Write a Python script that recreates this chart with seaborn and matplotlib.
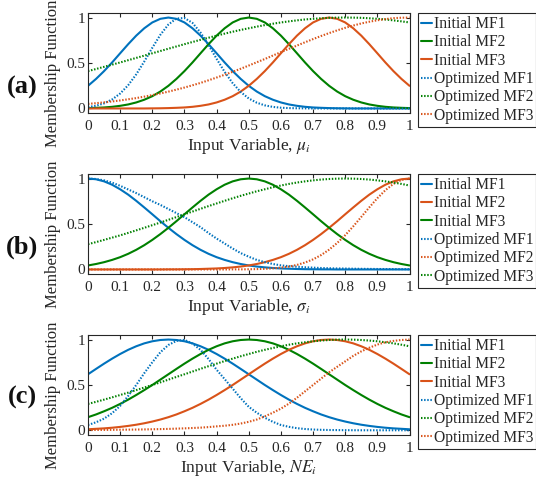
import numpy as np
import matplotlib
matplotlib.use("Agg")
import matplotlib.pyplot as plt
import seaborn as sns

x = np.linspace(0, 1, 41)

# (a) input mu_i
a_init1 = [0.249, 0.325, 0.411, 0.506, 0.607, 0.707, 0.801, 0.882, 0.946, 0.986, 1.0,
           0.986, 0.946, 0.882, 0.801, 0.707, 0.607, 0.506, 0.411, 0.325, 0.249,
           0.186, 0.135, 0.096, 0.066, 0.044, 0.029, 0.018, 0.011, 0.007, 0.004,
           0.002, 0.001, 0, 0, 0, 0, 0, 0, 0, 0]
a_init2 = [0.004, 0.007, 0.011, 0.018, 0.029, 0.044, 0.066, 0.096, 0.135, 0.186, 0.249,
           0.325, 0.411, 0.506, 0.607, 0.707, 0.801, 0.882, 0.946, 0.986, 1.0,
           0.986, 0.946, 0.882, 0.801, 0.707, 0.607, 0.506, 0.411, 0.325, 0.249,
           0.186, 0.135, 0.096, 0.066, 0.044, 0.029, 0.018, 0.011, 0.007, 0.004]
a_init3 = [0, 0, 0, 0, 0, 0, 0, 0, 0.001, 0.002, 0.004,
           0.007, 0.011, 0.018, 0.029, 0.044, 0.066, 0.096, 0.135, 0.186, 0.249,
           0.325, 0.411, 0.506, 0.607, 0.707, 0.801, 0.882, 0.946, 0.986, 1.0,
           0.986, 0.946, 0.882, 0.801, 0.707, 0.607, 0.506, 0.411, 0.325, 0.249]
a_opt1 = [0.015, 0.030, 0.056, 0.099, 0.164, 0.256, 0.375, 0.516, 0.667, 0.810, 0.923,
          0.989, 0.995, 0.941, 0.835, 0.697, 0.546, 0.402, 0.278, 0.181, 0.110,
          0.063, 0.034, 0.017, 0.008, 0.004, 0.002, 0.001, 0, 0, 0,
          0, 0, 0, 0, 0, 0, 0, 0, 0, 0]
a_opt2 = [0.411, 0.434, 0.458, 0.482, 0.506, 0.531, 0.556, 0.581, 0.607, 0.632, 0.657,
          0.682, 0.707, 0.731, 0.755, 0.778, 0.801, 0.823, 0.844, 0.864, 0.882,
          0.900, 0.917, 0.932, 0.946, 0.958, 0.969, 0.979, 0.986, 0.992, 0.997,
          0.999, 1.0, 0.999, 0.997, 0.992, 0.986, 0.979, 0.969, 0.958, 0.946]
a_opt3 = [0.050, 0.058, 0.067, 0.077, 0.088, 0.101, 0.114, 0.130, 0.147, 0.165, 0.185,
          0.207, 0.230, 0.255, 0.281, 0.310, 0.340, 0.371, 0.403, 0.437, 0.472,
          0.508, 0.544, 0.582, 0.619, 0.656, 0.692, 0.728, 0.763, 0.797, 0.829,
          0.859, 0.887, 0.912, 0.935, 0.954, 0.970, 0.983, 0.993, 0.998, 1.0]

# (b) input sigma_i
b_init1 = [1.0, 0.992, 0.969, 0.932, 0.882, 0.823, 0.755, 0.682, 0.607, 0.531, 0.458,
           0.389, 0.325, 0.267, 0.216, 0.172, 0.135, 0.105, 0.080, 0.060, 0.044,
           0.032, 0.023, 0.016, 0.011, 0.008, 0.005, 0.003, 0.002, 0.001, 0.001,
           0, 0, 0, 0, 0, 0, 0, 0, 0, 0]
b_init2 = [0, 0, 0, 0, 0, 0, 0, 0, 0, 0, 0.001,
           0.001, 0.002, 0.003, 0.005, 0.008, 0.011, 0.016, 0.023, 0.032, 0.044,
           0.060, 0.080, 0.105, 0.135, 0.172, 0.216, 0.267, 0.325, 0.389, 0.458,
           0.531, 0.607, 0.682, 0.755, 0.823, 0.882, 0.932, 0.969, 0.992, 1.0]
b_init3 = [0.044, 0.060, 0.080, 0.105, 0.135, 0.172, 0.216, 0.267, 0.325, 0.389, 0.458,
           0.531, 0.607, 0.682, 0.755, 0.823, 0.882, 0.932, 0.969, 0.992, 1.0,
           0.992, 0.969, 0.932, 0.882, 0.823, 0.755, 0.682, 0.607, 0.531, 0.458,
           0.389, 0.325, 0.267, 0.216, 0.172, 0.135, 0.105, 0.080, 0.060, 0.044]
b_opt1 = [1.0, 0.995, 0.98, 0.955, 0.92, 0.88, 0.84, 0.795, 0.75, 0.71, 0.665,
          0.62, 0.575, 0.52, 0.465, 0.40, 0.34, 0.285, 0.23, 0.18, 0.14,
          0.105, 0.08, 0.06, 0.045, 0.036, 0.03, 0.024, 0.02, 0.016, 0.013,
          0.011, 0.01, 0.008, 0.007, 0.006, 0.005, 0.0045, 0.004, 0.0035, 0.003]
b_opt2 = [0, 0, 0, 0, 0, 0, 0, 0, 0, 0, 0,
          0, 0, 0, 0, 0, 0, 0, 0.001, 0.001, 0.002,
          0.004, 0.007, 0.012, 0.020, 0.032, 0.050, 0.076, 0.111, 0.158, 0.218,
          0.291, 0.377, 0.474, 0.578, 0.683, 0.784, 0.872, 0.941, 0.985, 1.0]
b_opt3 = [0.278, 0.301, 0.325, 0.350, 0.375, 0.402, 0.430, 0.458, 0.487, 0.516, 0.546,
          0.576, 0.607, 0.637, 0.667, 0.697, 0.726, 0.755, 0.783, 0.810, 0.835,
          0.860, 0.882, 0.904, 0.923, 0.941, 0.956, 0.969, 0.980, 0.989, 0.995,
          0.999, 1.0, 0.999, 0.995, 0.989, 0.980, 0.969, 0.956, 0.941, 0.923]

# (c) input NE_i
c_init1 = [0.618, 0.677, 0.735, 0.790, 0.841, 0.887, 0.926, 0.958, 0.981, 0.995, 1.0,
           0.995, 0.981, 0.958, 0.926, 0.887, 0.841, 0.790, 0.735, 0.677, 0.618,
           0.559, 0.500, 0.444, 0.390, 0.339, 0.292, 0.249, 0.211, 0.176, 0.146,
           0.120, 0.098, 0.079, 0.063, 0.050, 0.039, 0.030, 0.023, 0.018, 0.013]
c_init2 = [0.146, 0.176, 0.211, 0.249, 0.292, 0.339, 0.390, 0.444, 0.500, 0.559, 0.618,
           0.677, 0.735, 0.790, 0.841, 0.887, 0.926, 0.958, 0.981, 0.995, 1.0,
           0.995, 0.981, 0.958, 0.926, 0.887, 0.841, 0.790, 0.735, 0.677, 0.618,
           0.559, 0.500, 0.444, 0.390, 0.339, 0.292, 0.249, 0.211, 0.176, 0.146]
c_init3 = [0.013, 0.018, 0.023, 0.030, 0.039, 0.050, 0.063, 0.079, 0.098, 0.120, 0.146,
           0.176, 0.211, 0.249, 0.292, 0.339, 0.390, 0.444, 0.500, 0.559, 0.618,
           0.677, 0.735, 0.790, 0.841, 0.887, 0.926, 0.958, 0.981, 0.995, 1.0,
           0.995, 0.981, 0.958, 0.926, 0.887, 0.841, 0.790, 0.735, 0.677, 0.618]
c_opt1 = [0.06, 0.09, 0.13, 0.19, 0.27, 0.38, 0.50, 0.63, 0.75, 0.86, 0.94,
          0.985, 0.997, 0.955, 0.887, 0.785, 0.668, 0.565, 0.46, 0.355, 0.26,
          0.195, 0.14, 0.095, 0.06, 0.04, 0.025, 0.016, 0.01, 0.007, 0.005,
          0.004, 0.003, 0.0025, 0.002, 0.002, 0.002, 0.002, 0.002, 0.002, 0.002]
c_opt2 = [0.292, 0.315, 0.339, 0.364, 0.390, 0.416, 0.444, 0.472, 0.500, 0.529, 0.559,
          0.589, 0.618, 0.648, 0.678, 0.707, 0.735, 0.763, 0.790, 0.816, 0.841,
          0.865, 0.887, 0.907, 0.926, 0.943, 0.958, 0.970, 0.981, 0.989, 0.995,
          0.999, 1.0, 0.999, 0.995, 0.989, 0.981, 0.970, 0.958, 0.943, 0.926]
c_opt3 = [0.005, 0.0055, 0.006, 0.007, 0.008, 0.009, 0.010, 0.0115, 0.013, 0.015, 0.017,
          0.020, 0.023, 0.027, 0.031, 0.037, 0.045, 0.052, 0.062, 0.076, 0.095,
          0.12, 0.155, 0.195, 0.24, 0.295, 0.36, 0.43, 0.50, 0.57, 0.64,
          0.70, 0.76, 0.82, 0.87, 0.91, 0.945, 0.97, 0.985, 0.995, 1.0]

xlabels = ["Input Variable, $\\mu_i$", "Input Variable, $\\sigma_i$", "Input Variable, $NE_i$"]
panel_tags = ["(a)", "(b)", "(c)"]
mf_names = ["MF1", "MF2", "MF3"]
tick_text = ["0", "0.1", "0.2", "0.3", "0.4", "0.5", "0.6", "0.7", "0.8", "0.9", "1"]

blue, orange, green = "#0072BD", "#D95319", "#008000"

panels = [
    ([a_init1, a_init2, a_init3], [a_opt1, a_opt2, a_opt3], [blue, green, orange]),
    ([b_init1, b_init2, b_init3], [b_opt1, b_opt2, b_opt3], [blue, orange, green]),
    ([c_init1, c_init2, c_init3], [c_opt1, c_opt2, c_opt3], [blue, green, orange]),
]

sns.set_style("ticks")
plt.rcParams["font.family"] = ["Liberation Serif", "DejaVu Serif"]
plt.rcParams["mathtext.fontset"] = "stix"

W, H = 536, 482
fig = plt.figure(figsize=(W / 100, H / 100), dpi=100)

ax_tops = [13, 174, 335]
tag_y = [87, 247, 397]
dark = "#262626"

for k, (inits, opts, cols) in enumerate(panels):
    top = ax_tops[k]
    ax = fig.add_axes([88 / W, 1 - (top + 100) / H, 321.5 / W, 100 / H])
    for vals, c, n in zip(inits, cols, mf_names):
        sns.lineplot(x=x, y=vals, ax=ax, color=c, lw=1.5, label="Initial " + n)
    for vals, c, n in zip(opts, cols, mf_names):
        sns.lineplot(x=x, y=vals, ax=ax, color=c, lw=1.5, linestyle=(0, (0.7, 0.8)),
                     label="Optimized " + n)
    ax.set_xlim(0, 1)
    ax.set_ylim(-0.05, 1.05)
    ax.set_xticks(np.arange(0, 1.01, 0.1))
    ax.set_xticklabels(tick_text)
    ax.set_yticks([0, 0.5, 1])
    ax.set_yticklabels(["0", "0.5", "1"])
    ax.tick_params(direction="in", top=True, right=True, labelsize=11, length=3,
                   color=dark, labelcolor=dark)
    ax.tick_params(axis="x", pad=5)
    ax.tick_params(axis="y", pad=2)
    for s in ax.spines.values():
        s.set_color(dark)
        s.set_linewidth(0.8)
    ax.set_xlabel(xlabels[k], fontsize=12.5, color=dark, labelpad=2)
    ax.set_ylabel("Membership Function", fontsize=12, color=dark)
    ax.yaxis.set_label_coords(-0.085, 0.40)
    leg = ax.legend(loc="upper left", bbox_to_anchor=(418 / W, 1 - top / H),
                    bbox_transform=fig.transFigure, fontsize=11.2, frameon=True,
                    fancybox=False, edgecolor=dark, framealpha=1,
                    handlelength=0.7, handletextpad=0.1, labelspacing=0.15,
                    borderpad=0.2, borderaxespad=0)
    leg.get_frame().set_linewidth(0.8)
    for t in leg.get_texts():
        t.set_color(dark)
    fig.text(22 / W, 1 - tag_y[k] / H, panel_tags[k], fontsize=19, fontweight="bold",
             ha="center", va="center", color="#111111")

fig.savefig("out.png", dpi=100)
